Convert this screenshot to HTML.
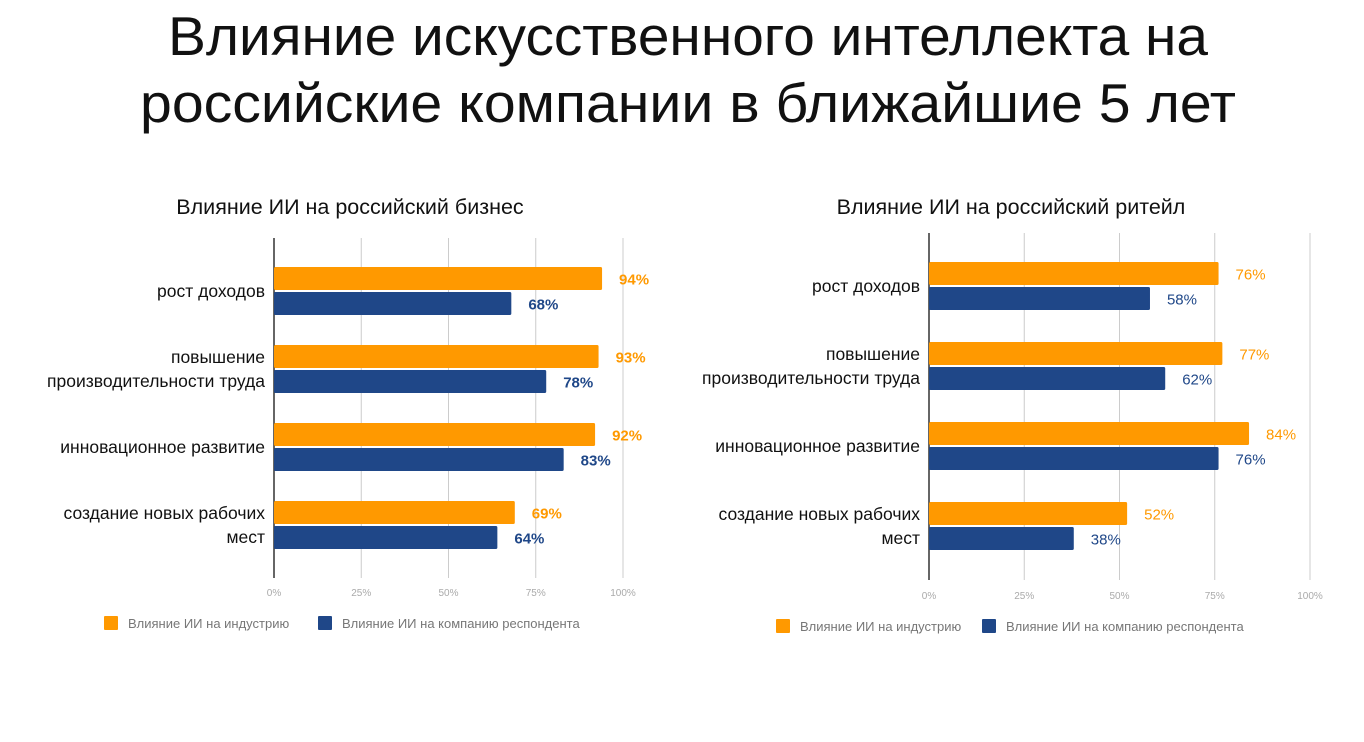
<!DOCTYPE html>
<html><head><meta charset="utf-8"><style>
body{margin:0;background:#fff;width:1364px;height:737px;overflow:hidden;font-family:"Liberation Sans","DejaVu Sans",sans-serif}
</style></head><body>
<svg id="s" width="1364" height="737" font-family="Liberation Sans, DejaVu Sans, sans-serif">
<text x="168" y="55" font-size="55" textLength="1040" lengthAdjust="spacingAndGlyphs" fill="#111">Влияние искусственного интеллекта на</text>
<text x="140" y="122" font-size="55" textLength="1096" lengthAdjust="spacingAndGlyphs" fill="#111">российские компании в ближайшие 5 лет</text>
</svg>
<script>
const categories=["рост доходов","повышение|производительности труда","инновационное развитие","создание новых рабочих|мест"];
const leftIndustry=[94,93,92,69];
const leftCompany=[68,78,83,64];
const rightIndustry=[76,77,84,52];
const rightCompany=[58,62,76,38];
const ticks=[0,25,50,75,100];
const legendLabels=["Влияние ИИ на индустрию","Влияние ИИ на компанию респондента"];
const NS="http://www.w3.org/2000/svg",svg=document.getElementById('s');
function mk(t,a,p){const e=document.createElementNS(NS,t);for(const k in a)e.setAttribute(k,a[k]);(p||svg).appendChild(e);return e;}
function chart(cfg,ind,comp){
  const g=mk('g',{});
  
  
  const x=v=>cfg.x0+(cfg.x1-cfg.x0)*v/100;
  const t=mk('text',{x:cfg.titleX,y:cfg.titleY,'font-size':21.5,'text-anchor':'middle',fill:'#111'},g);t.textContent=cfg.title;
  
  
  ticks.forEach(v=>{
    if(v>0){const l=mk('line',{x1:x(v),x2:x(v),y1:cfg.top,y2:cfg.bottom,stroke:'#ccc','stroke-width':1},g);
      
      }
    const tl=mk('text',{x:x(v),y:cfg.tickY,'font-size':10,'text-anchor':'middle',fill:'#aaa'},g);tl.textContent=v+'%';
    
    
  });
  const ax=mk('line',{x1:cfg.x0,x2:cfg.x0,y1:cfg.top,y2:cfg.bottom,stroke:'#333','stroke-width':1.5},g);
  
  
  categories.forEach((c,i)=>{
    const y=cfg.firstY+i*cfg.pitch;
    [[ind[i],'#ff9900',y,'bar-industry'],[comp[i],'#1f4788',y+cfg.bh+2,'bar-company']].forEach(([v,col,yy,nm])=>{
      const r=mk('rect',{x:cfg.x0,y:yy,width:x(v)-cfg.x0,height:cfg.bh,fill:col,rx:1.5},g);
      
      
      const vl=mk('text',{x:x(v)+cfg.lblOff,y:yy+cfg.bh/2+6,'font-size':15,'font-weight':cfg.bold?'bold':'normal',fill:col},g);vl.textContent=v+'%';
      
      
    });
    const parts=c.split('|');const cy=y+cfg.bh+1;
    parts.forEach((p,j)=>{
      const yy=parts.length==1?cy+6:cy-6+j*24;
      const lt=mk('text',{x:cfg.x0-9,y:yy,'font-size':17.5,'text-anchor':'end',fill:'#111'},g);lt.textContent=p;
      
      
    });
  });
  legendLabels.forEach((l,i)=>{
    const lx=cfg.legX[i];
    const sq=mk('rect',{x:lx,y:cfg.legY-7,width:14,height:14,fill:i?'#1f4788':'#ff9900',rx:1},g);
    
    
    const lt=mk('text',{x:lx+24,y:cfg.legY+5,'font-size':13,fill:'#777'},g);lt.textContent=l;
    
    
  });
}
chart({name:'chart-business',title:'Влияние ИИ на российский бизнес',titleX:350,titleY:214,x0:274,x1:623,top:238,bottom:578,tickY:596,firstY:267,pitch:78,bh:23,lblOff:17,bold:true,legY:623,legX:[104,318]},leftIndustry,leftCompany);
chart({name:'chart-retail',title:'Влияние ИИ на российский ритейл',titleX:1011,titleY:214,x0:929,x1:1310,top:233,bottom:580,tickY:599,firstY:262,pitch:80,bh:23,lblOff:17,bold:false,legY:626,legX:[776,982]},rightIndustry,rightCompany);
</script>
</body></html>
